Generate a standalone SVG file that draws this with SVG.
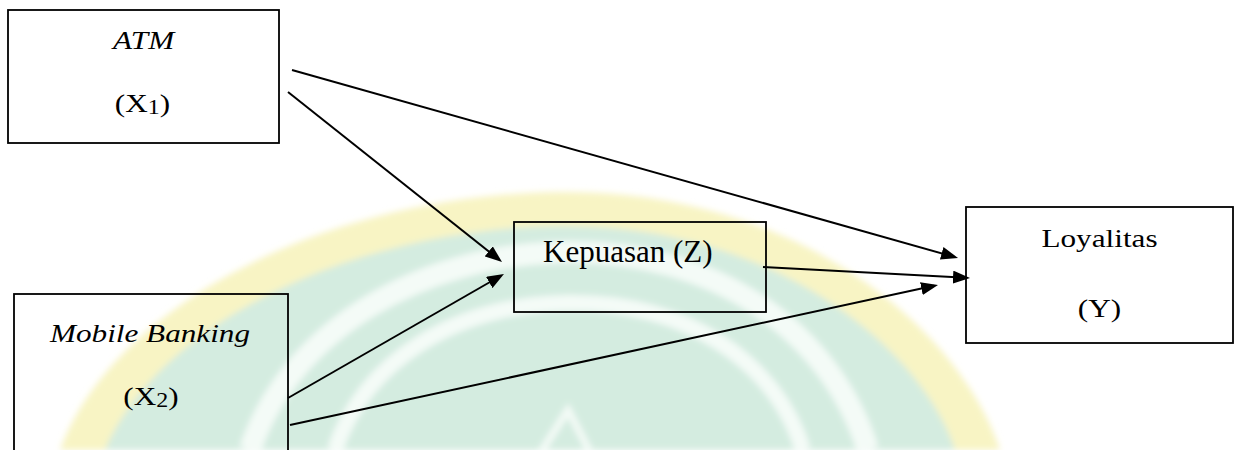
<svg xmlns="http://www.w3.org/2000/svg" width="1243" height="450" viewBox="0 0 1243 450">
  <style>
    .box { fill: none; stroke: #000; stroke-width: 1.8; }
    .lbl { font-family: "Liberation Serif", "Times New Roman", serif; font-size: 26px; fill: #000; }
    .conn { fill: none; stroke: #000; stroke-width: 2; marker-end: url(#arr); }
  </style>
  <defs>
    <marker id="arr" markerUnits="userSpaceOnUse" markerWidth="17" markerHeight="13" viewBox="0 0 17 13" refX="13" refY="6.5" orient="auto">
      <path d="M0,0 L17,6.5 L0,13 z" fill="#000"/>
    </marker>
    <filter id="soft" x="-10%" y="-10%" width="120%" height="120%">
      <feGaussianBlur stdDeviation="3"/>
    </filter>
  </defs>
  <rect width="1243" height="450" fill="#fff"/>

  <g id="watermark" filter="url(#soft)">
    <path d="M60,450 C110,310 320,195 560,192 C800,190 960,330 1000,450 Z" fill="#f8f4c4"/>
    <path d="M105,450 C160,320 360,228 560,226 C770,224 920,345 955,450 Z" fill="#d4ece0"/>
    <path d="M250,450 C290,330 420,255 565,252 C715,250 830,330 868,450" fill="none" stroke="#f4fbf7" stroke-width="22"/>
    <path d="M335,450 C365,360 455,305 567,303 C685,301 775,360 803,450" fill="none" stroke="#f4fbf7" stroke-width="16"/>
    <path d="M541,452 L568,410 L590,452" fill="none" stroke="#f4fbf7" stroke-width="7"/>
  </g>

  <g id="node-atm">
    <rect class="box" x="8" y="10" width="271" height="133"/>
    <text class="lbl" font-style="italic" text-anchor="middle" transform="translate(143.5,49) scale(1.2,1)">ATM</text>
    <text class="lbl" text-anchor="middle" transform="translate(142.5,112) scale(1.2,1)">(X<tspan font-size="20" dy="2">1</tspan><tspan dy="-2">)</tspan></text>
  </g>

  <g id="node-mobile">
    <rect class="box" x="14" y="294" width="274" height="170"/>
    <text class="lbl" font-style="italic" text-anchor="middle" transform="translate(150,342) scale(1.2,1)">Mobile Banking</text>
    <text class="lbl" text-anchor="middle" transform="translate(151,405) scale(1.2,1)">(X<tspan font-size="20" dy="2">2</tspan><tspan dy="-2">)</tspan></text>
  </g>

  <g id="node-kepuasan">
    <rect class="box" x="514" y="222" width="252" height="90"/>
    <text class="lbl" x="543" y="262" style="font-size:31px">Kepuasan (Z)</text>
  </g>

  <g id="node-loyalitas">
    <rect class="box" x="966" y="207" width="267" height="136"/>
    <text class="lbl" text-anchor="middle" transform="translate(1099.5,247) scale(1.2,1)">Loyalitas</text>
    <text class="lbl" text-anchor="middle" transform="translate(1099.5,317) scale(1.2,1)">(Y)</text>
  </g>

  <g id="connectors">
    <line class="conn" x1="292" y1="70" x2="954.2" y2="256.9"/>
    <line class="conn" x1="288" y1="92" x2="498.9" y2="259.5"/>
    <line class="conn" x1="288" y1="398" x2="500.5" y2="276"/>
    <line class="conn" x1="290" y1="425" x2="934.1" y2="285.8"/>
    <line class="conn" x1="763" y1="267" x2="966" y2="277.8"/>
  </g>
</svg>
